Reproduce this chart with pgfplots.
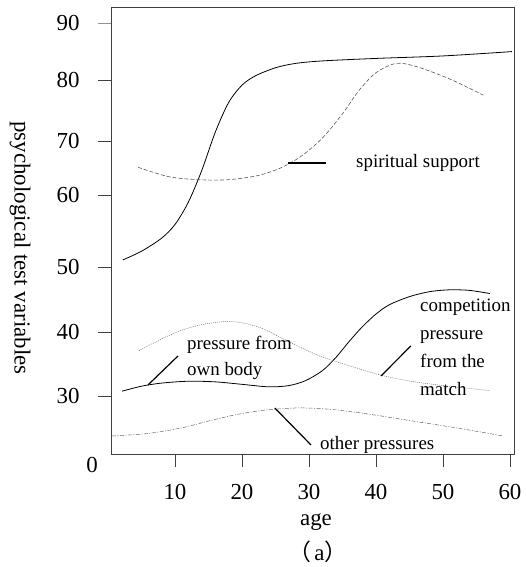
\documentclass[border=0pt]{standalone}
\usepackage{fontspec}
\setmainfont{Liberation Serif}
\newfontfamily\cjk{Noto Sans CJK SC}
\usepackage{pgfplots}
\pgfplotsset{compat=1.18}
\definecolor{tickblue}{RGB}{120,150,200}
\begin{document}
\begin{tikzpicture}[x=1bp,y=1bp]
\path[use as bounding box] (0,0) rectangle (526,567);
\begin{axis}[
  at={(111bp,113bp)}, anchor=south west,
  scale only axis, width=403bp, height=447bp,
  xmin=0.45, xmax=60.6, ymin=20.7, ymax=92.57,
  axis line style={black!75, line width=0.8pt},
  tick align=outside, xtick pos=bottom, ytick pos=left,
  major tick length=13bp,
  tick style={black!75, line width=0.8pt},
  xtick={10,20,30,40,50,60},
  ytick={80.84,71.03,62.35,50.77,40.32,30.03},
  yticklabels={80,70,60,50,40,30},
  extra y ticks={90}, extra y tick labels={90},
  extra y tick style={tick style={tickblue}},
  ticklabel style={font=\fontsize{23}{27}\selectfont},
  xticklabel style={yshift=-14bp},
  yticklabel style={xshift=-15bp},
  /pgf/number format/assume math mode=true,
  clip=false,
]
% top solid
\addplot[black, line width=0.8pt, smooth] coordinates {
 (2.2,51.9)(5,53.3)(8,55.4)(10,57.6)(12,61.2)(14,66.3)(16,72.4)(18,77.2)(20,80.0)(22,81.5)(25,82.8)(28,83.5)(32,83.9)(40,84.3)(50,84.7)(60.3,85.4)};
% spiritual support dashed
\addplot[black!65, line width=0.6pt, dash pattern=on 4pt off 2pt, smooth] coordinates {
 (4.5,66.8)(9,65.3)(13.5,64.8)(18,64.8)(22.5,65.5)(26,66.8)(29,68.7)(32,71.5)(35,75.4)(37.5,79.2)(40,82.0)(43,83.5)(46,83.0)(51,81.0)(56,78.4)};
% pressure from own body solid
\addplot[black, line width=0.8pt, smooth] coordinates {
 (2.1,30.8)(5,31.6)(8,32.1)(12,32.4)(16,32.3)(20,31.9)(24,31.5)(27,31.7)(29.5,32.5)(32,34.1)(34,36.2)(36,38.8)(38,41.2)(40,43.2)(42,44.7)(45,46.0)(48,46.8)(51,47.1)(54,47.0)(57,46.5)};
% competition pressure dotted
\addplot[black!55, line width=0.5pt, dash pattern=on 1pt off 1pt, smooth] coordinates {
 (4.6,37.3)(8,39.2)(11,40.6)(14,41.5)(17.5,42.0)(20,41.8)(23,40.9)(26,39.3)(29,37.7)(32,36.3)(36,34.9)(41,33.3)(47,32.1)(57,30.9)};
% other pressures dash-dot
\addplot[black!60, line width=0.5pt, dash pattern=on 4pt off 1.5pt on 1pt off 1.5pt, smooth] coordinates {
 (0.6,23.6)(6,24.0)(11,24.9)(15,26.0)(19,27.0)(23,27.7)(28,28.1)(33,27.9)(39,27.1)(45.5,26.0)(52,24.9)(59,23.6)};
% leader lines
\draw[black, line width=1.2pt] (axis cs:26.9,67.49) -- (axis cs:32.5,67.49);
\draw[black, line width=1.2pt] (axis cs:5.97,31.8) -- (axis cs:10.45,36.46);
\draw[black, line width=1.2pt] (axis cs:40.75,33.25) -- (axis cs:45.2,38.07);
\draw[black, line width=1.2pt] (axis cs:24.9,28.1) -- (axis cs:30.3,22.15);
\end{axis}
\begin{scope}[every node/.style={inner sep=0pt, anchor=base west, font=\fontsize{19}{23}\selectfont}]
\node at (356,399) {spiritual support};
\node at (187,217) {pressure from};
\node at (187,191) {own body};
\node at (420,255) {competition};
\node at (420,227) {pressure};
\node at (420,199) {from the};
\node at (420,171) {match};
\node at (320,117) {other pressures};
\end{scope}
\begin{scope}[every node/.style={inner sep=0pt, font=\fontsize{23}{27}\selectfont}]
\node at (92,102) {0};
\node at (316,45) {age};
\node at (318,15) {{\cjk （}\kern3bp a{\cjk ）}};
\node[rotate=-90] at (20,319) {psychological test variables};
\end{scope}
\end{tikzpicture}
\end{document}
